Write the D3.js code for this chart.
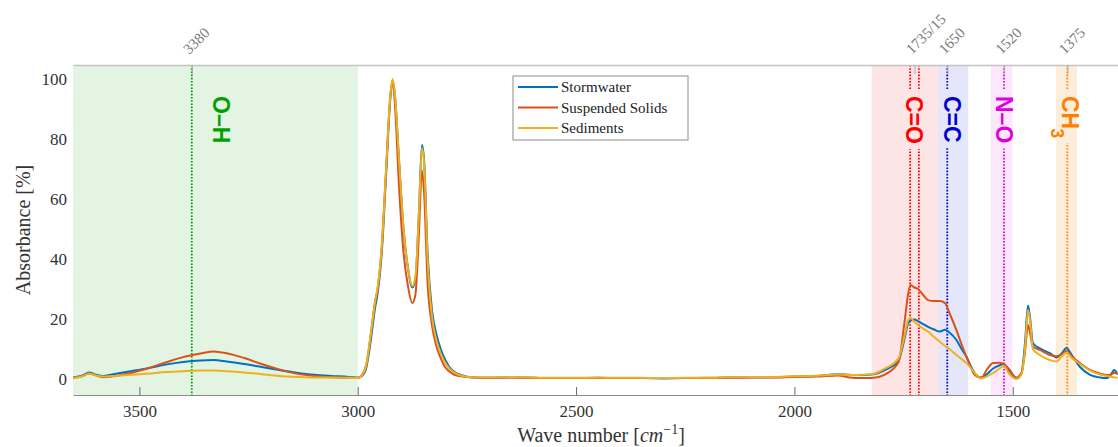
<!DOCTYPE html>
<html>
<head>
<meta charset="utf-8">
<script src="https://cdn.jsdelivr.net/npm/d3@7"></script>
<style>
    body { margin: 0; background: #ffffff; }
    text { font-family: "Liberation Serif", "DejaVu Serif", serif; }
    .grp { font-family: "Liberation Sans", Arial, sans-serif; font-weight: bold; }
</style>
</head>
<body>
<div id="container"></div>
<script>
const container = d3.select('#container')

// wave numbers shared by the three spectra (cm-1)
const waveNumbers = [3652, 3630, 3615, 3600, 3585, 3560, 3520, 3480, 3440, 3400, 3360, 3330, 3300, 3260, 3220, 3180, 3140, 3100, 3060, 3020,
    3000, 2990, 2980, 2970, 2960, 2955, 2945, 2935, 2925, 2920, 2915, 2905, 2895, 2885, 2875, 2868, 2860, 2853, 2848, 2840,
    2830, 2820, 2810, 2800, 2790, 2780, 2760, 2740, 2700, 2650, 2600, 2550, 2500, 2450, 2400, 2350, 2300, 2250, 2200, 2150,
    2100, 2050, 2000, 1950, 1900, 1873, 1850, 1823, 1793, 1762, 1747, 1740, 1734, 1725, 1717, 1705, 1694, 1680, 1667, 1655,
    1645, 1629, 1617, 1606, 1595, 1587, 1572, 1560, 1545, 1530, 1521, 1507, 1492, 1480, 1472, 1465, 1460, 1454, 1438, 1415,
    1400, 1388, 1377, 1365, 1346, 1323, 1300, 1285, 1275, 1268, 1260];

const stormwater = [0.5, 1.2, 2.2, 1.4, 1.0, 1.6, 2.6, 3.6, 4.8, 5.7, 6.2, 6.3, 5.8, 5.0, 4.0, 3.0, 2.1, 1.4, 1.0, 0.7,
    0.4, 1.0, 4, 13, 24, 28, 42, 68, 94, 99.5, 95, 72, 50, 37, 30.5, 33, 55, 78, 73, 42,
    23, 15, 10, 6.5, 4, 2.5, 1.2, 0.6, 0.4, 0.6, 0.4, 0.3, 0.3, 0.4, 0.3, 0.3, 0.2, 0.3, 0.3, 0.5,
    0.6, 0.6, 0.8, 1.0, 1.6, 1.4, 1.3, 1.5, 3, 6, 14, 18.5, 19.5, 19.8, 19.3, 18.3, 17.4, 16.5, 15.8, 16.4,
    15.5, 13, 10, 7.4, 4, 2, 0.5, 1.5, 3.5, 4.6, 5, 2.6, 0.4, 2, 12, 24.5, 20, 12, 10.2, 8.6,
    7.2, 8.5, 10.3, 8, 4, 1.4, 0.5, 0.3, 1.5, 3, 1.5];

const suspendedSolids = [0.4, 1.0, 1.8, 1.2, 0.6, 0.9, 2.0, 3.6, 5.5, 7.3, 8.5, 9.2, 8.6, 7.0, 5.0, 3.2, 1.8, 1.0, 0.6, 0.4,
    0.4, 1.4, 5, 15, 26, 29.5, 44, 70, 95, 99.5, 92, 63, 42, 31, 25.3, 28, 48, 69.5, 62, 32,
    18, 11, 7, 4, 2.5, 1.5, 0.8, 0.5, 0.4, 0.5, 0.4, 0.3, 0.3, 0.3, 0.3, 0.3, 0.3, 0.3, 0.4, 0.4,
    0.5, 0.5, 0.7, 0.8, 1.2, 0.5, 0.3, 0.3, 1.5, 5.5, 20, 28, 31.3, 30.5, 30, 28, 26.3, 26, 26, 25.3,
    22, 16.3, 11.5, 7.4, 3.5, 1.3, 0.3, 3, 5.3, 5.4, 5, 3, 0.3, 2, 9, 18, 15, 10.8, 9.7, 8,
    7.6, 8.2, 9.3, 7.5, 5.3, 3, 1.8, 1.3, 1.5, 2, 2];

const sediments = [0.3, 0.9, 1.8, 1.2, 0.8, 1.0, 1.4, 1.8, 2.3, 2.6, 2.8, 2.8, 2.6, 2.2, 1.6, 1.0, 0.7, 0.5, 0.5, 0.4,
    0.3, 1.2, 5, 15, 26, 30, 44, 70, 95, 100, 95, 72, 50, 37, 31, 34, 55, 77, 72, 40,
    21, 13, 8.5, 5.5, 3.5, 2.2, 1, 0.6, 0.5, 0.7, 0.5, 0.4, 0.4, 0.5, 0.4, 0.4, 0.3, 0.4, 0.4, 0.6,
    0.7, 0.7, 0.9, 1.1, 1.5, 1.3, 1.4, 1.6, 3.5, 6.8, 15, 19.5, 20.3, 19, 18, 16.8, 15.8, 14, 12.4, 11,
    10, 8, 6.6, 5.3, 3.5, 2, 0.2, 0.8, 2, 3.5, 4.3, 1.5, 0, 1.5, 10, 23, 19, 10, 8, 6.3,
    5.8, 7.5, 8.8, 7, 5, 2.8, 1.5, 1.0, 0.8, 0.5, 0.5];

const seriesNames = ["Stormwater", "Suspended Solids", "Sediments"];
const seriesValues = [stormwater, suspendedSolids, sediments];

const xTicks = [3500, 3000, 2500, 2000, 1500];
const yTicks = [0, 20, 40, 60, 80, 100];

// functional group bands
const groupNames = ["O–H", "C=O", "C=C", "N–O", "CH"];
const groupSub = ["", "", "", "", "3"];
const bandFrom = [3652, 1823, 1671, 1550, 1401];
const bandTo = [3000, 1671, 1602, 1501, 1353];
const labelWave = [3312, 1727, 1640, 1521, 1368];

const peakTicks = [3380, 1725, 1650, 1520, 1375];
const peakTickLabels = ["3380", "1735/15", "1650", "1520", "1375"];
const peakLines = [3380, 1735, 1715, 1650, 1520, 1375];
const peakLineGroup = [0, 1, 1, 2, 3, 4];

const colors = ["#0072bd", "#d95319", "#edb120"];
const bandColors = ["#e3f5e2", "#fde5e5", "#e6e6fb", "#fde7fd", "#fdeedc"];
const groupColors = ["#00a000", "#ff0000", "#0000cc", "#dd00dd", "#ff8000"];

var width = 1118,
    height = 447;

var x = d3.scaleLinear().domain([3652, 1259]).range([73, 1118]);
var y = d3.scaleLinear().domain([-5.33, 104.67]).range([395, 65]);

const svg = container
    .append('svg')
        .attr('width', width)
        .attr('height', height);

svg.append("defs").append("clipPath")
    .attr("id", "plotclip")
    .append("rect")
        .attr("x", x.range()[0])
        .attr("y", y.range()[1])
        .attr("width", x.range()[1] - x.range()[0])
        .attr("height", y.range()[0] - y.range()[1]);

const plot = svg.append("g").attr("clip-path", "url(#plotclip)");

// shaded bands
plot.selectAll("rect.band")
    .data(groupNames)
    .enter()
    .append("rect")
        .attr("class", "band")
        .attr("x", (d, i) => x(bandFrom[i]))
        .attr("width", (d, i) => x(bandTo[i]) - x(bandFrom[i]))
        .attr("y", y.range()[1])
        .attr("height", y.range()[0] - y.range()[1])
        .style("fill", (d, i) => bandColors[i]);

// bottom axis
const xAxis = svg.append("g")
    .attr("transform", "translate(0," + y.range()[0] + ")")
    .call(d3.axisBottom(x).tickValues(xTicks).tickSizeInner(-8).tickSizeOuter(0).tickPadding(10).tickFormat(d3.format("d")));
xAxis.select(".domain").attr("stroke", "#8a8a8a");
xAxis.selectAll(".tick line").attr("stroke", "#6a6a6a");
xAxis.selectAll(".tick text")
    .attr("fill", "#333")
    .style("font-size", "17px")
    .style("font-family", "Liberation Serif, serif");

// top axis with the peak positions
const topAxis = svg.append("g")
    .attr("transform", "translate(0," + y.range()[1] + ")")
    .call(d3.axisTop(x).tickValues(peakTicks).tickSizeInner(-9).tickSizeOuter(0)
        .tickFormat((d, i) => peakTickLabels[i]));
topAxis.select(".domain").attr("stroke", "#c4c4c4").attr("stroke-width", 1.6);
topAxis.selectAll(".tick line").attr("stroke", "#aaaaaa");
topAxis.selectAll(".tick text")
    .attr("x", 0)
    .attr("y", 0)
    .attr("dy", 0)
    .attr("text-anchor", "start")
    .attr("transform", "translate(-3,-10) rotate(-45)")
    .attr("fill", "#7a7a7a")
    .style("font-size", "15px")
    .style("font-family", "Liberation Serif, serif");

// left axis labels
const yAxis = svg.append("g")
    .attr("transform", "translate(" + x.range()[0] + ",0)")
    .call(d3.axisLeft(y).tickValues(yTicks).tickSize(0).tickPadding(6));
yAxis.select(".domain").remove();
yAxis.selectAll(".tick text")
    .attr("fill", "#333")
    .style("font-size", "17px")
    .style("font-family", "Liberation Serif, serif");

// dotted peak lines
plot.selectAll("line.peak")
    .data(peakLines)
    .enter()
    .append("line")
        .attr("class", "peak")
        .attr("x1", d => x(d))
        .attr("x2", d => x(d))
        .attr("y1", y.range()[1])
        .attr("y2", y.range()[0])
        .attr("stroke", (d, i) => groupColors[peakLineGroup[i]])
        .attr("stroke-width", 1.8)
        .attr("stroke-dasharray", "1.6,1.6");

// spectra
var line = d3.line()
    .x(d => x(d[0]))
    .y(d => y(d[1]))
    .curve(d3.curveMonotoneX);

seriesValues.forEach(function(vals, s) {
    plot.append("path")
        .datum(waveNumbers.map((w, i) => [w, vals[i]]))
        .attr("d", line)
        .attr("fill", "none")
        .attr("stroke", colors[s])
        .attr("stroke-width", 2)
        .attr("stroke-linejoin", "round");
});

// functional group labels, rotated, with band coloured background
const labelTop = 96;
groupNames.forEach(function(name, i) {
    var bx = x(labelWave[i]) - 8;
    var bg = svg.append("rect").style("fill", bandColors[i]);
    var g = svg.append("g")
        .attr("transform", "translate(" + bx + "," + labelTop + ") rotate(90)");
    var t = g.append("text")
        .attr("class", "grp")
        .attr("fill", groupColors[i])
        .style("font-size", "23px")
        .text(name);
    if (groupSub[i]) {
        t.append("tspan")
            .attr("dy", 11)
            .attr("dx", -1)
            .style("font-size", "18px")
            .text(groupSub[i]);
    }
    var bb = t.node().getBBox();
    // background kept inside the band
    var left = Math.max(x(bandFrom[i]), bx - (bb.y + bb.height) - 2),
        right = Math.min(x(bandTo[i]), bx - bb.y + 2);
    bg.attr("x", left)
        .attr("y", labelTop + bb.x - 7)
        .attr("width", right - left)
        .attr("height", bb.width + 12);
});

// legend
const legend = svg.append("g").attr("transform", "translate(513,76)");
legend.append("rect")
    .attr("width", 175)
    .attr("height", 64)
    .attr("fill", "#ffffff")
    .attr("stroke", "#8c8c8c")
    .attr("stroke-width", 1);
seriesNames.forEach(function(name, i) {
    var ly = 11 + i * 20.5;
    legend.append("line")
        .attr("x1", 5).attr("x2", 45)
        .attr("y1", ly).attr("y2", ly)
        .attr("stroke", colors[i])
        .attr("stroke-width", 2);
    legend.append("text")
        .attr("x", 48)
        .attr("y", ly)
        .attr("dy", "0.35em")
        .attr("fill", "#222")
        .style("font-size", "15px")
        .text(name);
});

// axis titles
svg.append("text")
    .attr("transform", "translate(30," + ((y.range()[0] + y.range()[1]) / 2) + ") rotate(-90)")
    .attr("text-anchor", "middle")
    .attr("fill", "#333")
    .style("font-size", "20px")
    .text("Absorbance [%]");

const xt = svg.append("text")
    .attr("x", 601)
    .attr("y", 442)
    .attr("text-anchor", "middle")
    .attr("fill", "#333")
    .style("font-size", "20px")
    .text("Wave number [");
xt.append("tspan").style("font-style", "italic").text("cm");
xt.append("tspan").attr("dy", -8).style("font-size", "14px").text("−1");
xt.append("tspan").attr("dy", 8).text("]");
</script>
</body>
</html>
